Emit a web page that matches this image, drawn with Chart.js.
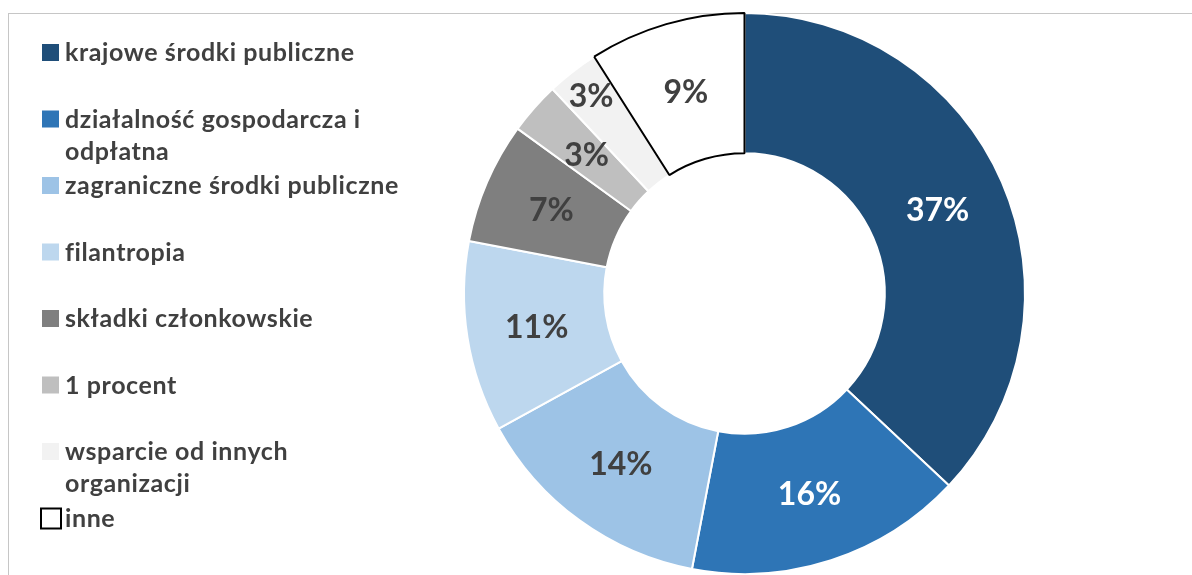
<!DOCTYPE html>
<html>
<head>
<meta charset="utf-8">
<script src="https://cdn.jsdelivr.net/npm/chart.js@4/dist/chart.umd.min.js"></script>
<style>
  html, body { margin: 0; padding: 0; background: #fff; overflow: hidden; }
  #wrap { position: relative; width: 1192px; height: 575px; }
  #frame {
    position: absolute; left: 8px; top: 13px; width: 1300px; height: 700px;
    border-top: 1px solid #c6c6c6; border-left: 1px solid #c6c6c6;
  }
  canvas { position: absolute; left: 0; top: 0; }
</style>
</head>
<body>
<div id="wrap">
  <div id="frame"></div>
  <canvas id="chart" width="1192" height="575"></canvas>
</div>
<script>
/* ---- data ---- */
var categories = [
  'krajowe środki publiczne',
  'działalność gospodarcza i odpłatna',
  'zagraniczne środki publiczne',
  'filantropia',
  'składki członkowskie',
  '1 procent',
  'wsparcie od innych organizacji',
  'inne'
];
var shares = [37, 16, 14, 11, 7, 3, 3, 9];
var sliceColors = ['#1f4e79', '#2e75b6', '#9dc3e6', '#bdd7ee', '#7f7f7f', '#bfbfbf', '#f2f2f2', '#ffffff'];
var sliceBorders = ['#ffffff', '#ffffff', '#ffffff', '#ffffff', '#ffffff', '#ffffff', '#ffffff', '#000000'];
var labelColors = ['#ffffff', '#ffffff', '#404040', '#404040', '#404040', '#404040', '#404040', '#404040'];
// legend text broken into lines as in the original
var legendLines = [
  ['krajowe środki publiczne'],
  ['działalność gospodarcza i', 'odpłatna'],
  ['zagraniczne środki publiczne'],
  ['filantropia'],
  ['składki członkowskie'],
  ['1 procent'],
  ['wsparcie od innych', 'organizacji'],
  ['inne']
];

var FONT = "Lato, 'Open Sans', sans-serif";
var TEXT = '#404040';

// percentage labels drawn in the middle of each ring segment
var sliceLabels = {
  id: 'sliceLabels',
  afterDatasetsDraw: function(chart, args, opts) {
    var ctx = chart.ctx;
    var meta = chart.getDatasetMeta(0);
    ctx.save();
    ctx.font = 'bold 32px ' + FONT;
    ctx.textAlign = 'center';
    ctx.textBaseline = 'middle';
    meta.data.forEach(function(arc, i) {
      var p = arc.getProps(['x', 'y', 'startAngle', 'endAngle', 'innerRadius', 'outerRadius']);
      var mid = (p.startAngle + p.endAngle) / 2;
      var r = (p.innerRadius + p.outerRadius) / 2 + (opts.shift[i] || 0);
      ctx.fillStyle = labelColors[i];
      ctx.fillText(shares[i] + '%', p.x + Math.cos(mid) * r, p.y + Math.sin(mid) * r + 1);
    });
    ctx.restore();
  }
};

// legend on the left, drawn with the chart
var sideLegend = {
  id: 'sideLegend',
  afterDraw: function(chart, args, opts) {
    var ctx = chart.ctx;
    ctx.save();
    ctx.font = 'bold 25px ' + FONT;
    ctx.letterSpacing = '0.6px';
    ctx.textBaseline = 'middle';
    ctx.textAlign = 'left';
    categories.forEach(function(c, i) {
      var y = opts.top + i * opts.step;
      var sq = 17;
      if (sliceBorders[i] === '#000000') {
        ctx.fillStyle = '#ffffff';
        ctx.fillRect(opts.x - 1, y - 9, 20, 20);
        ctx.strokeStyle = '#000000';
        ctx.lineWidth = 2;
        ctx.strokeRect(opts.x - 1, y - 9, 20, 20);
      } else {
        ctx.fillStyle = sliceColors[i];
        ctx.fillRect(opts.x, y - 8, sq, sq);
      }
      ctx.fillStyle = TEXT;
      legendLines[i].forEach(function(line, k) {
        ctx.fillText(line, opts.x + 23, y + 1 + k * 32);
      });
    });
    ctx.restore();
  }
};

new Chart(document.getElementById('chart'), {
  type: 'doughnut',
  data: {
    labels: categories,
    datasets: [{
      data: shares,
      backgroundColor: sliceColors,
      borderColor: sliceBorders,
      borderWidth: 2,
      hoverOffset: 0
    }]
  },
  options: {
    responsive: false,
    animation: false,
    cutout: '50%',
    layout: { padding: { left: 463, right: 166, top: 12, bottom: 0 } },
    plugins: {
      legend: { display: false },
      tooltip: { enabled: false },
      sliceLabels: { shift: { 6: 40 } },
      sideLegend: { x: 42, top: 52, step: 66.5 }
    }
  },
  plugins: [sliceLabels, sideLegend]
});
</script>
</body>
</html>
